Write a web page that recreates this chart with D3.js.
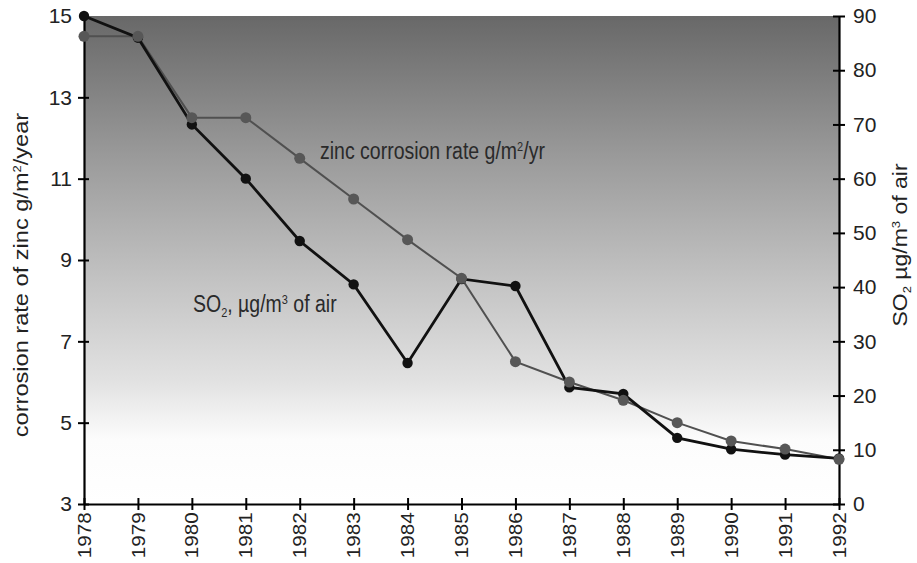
<!DOCTYPE html>
<html>
<head>
<meta charset="utf-8">
<script src="https://cdn.jsdelivr.net/npm/d3@7"></script>
<style>
  body { margin: 0; background: #fff; }
  svg { font-family: "Liberation Sans", Arial, sans-serif; }
</style>
</head>
<body>
<svg width="917" height="563"></svg>
<script>
// data
var years = [1978, 1979, 1980, 1981, 1982, 1983, 1984, 1985, 1986, 1987, 1988, 1989, 1990, 1991, 1992];
var zincRate = [14.5, 14.5, 12.5, 12.5, 11.5, 10.5, 9.5, 8.55, 6.5, 6.0, 5.55, 5.0, 4.55, 4.35, 4.1];
var so2 = [90, 86, 70, 60, 48.5, 40.5, 26, 41.5, 40.2, 21.5, 20.3, 12.2, 10.1, 9.1, 8.4];
var leftTicks = [3, 5, 7, 9, 11, 13, 15];
var rightTicks = [0, 10, 20, 30, 40, 50, 60, 70, 80, 90];

var margin = {top: 16, right: 78, bottom: 59, left: 84},
    width = 917 - margin.left - margin.right,
    height = 563 - margin.top - margin.bottom;

// the original scan is a bit stretched vertically
var stretch = 1.18;

var svg = d3.select("svg")
  .append("g")
  .attr("transform", "translate(" + margin.left + "," + margin.top + ")");

var x = d3.scaleLinear().domain([1978, 1992]).range([0, width]);
var yL = d3.scaleLinear().domain([3, 15]).range([height, 0]);
var yR = d3.scaleLinear().domain([0, 90]).range([height, 0]);

// shaded background, dark at top fading to white
var grad = d3.select("svg").append("defs").append("linearGradient")
  .attr("id", "bg").attr("x1", 0).attr("y1", 0).attr("x2", 0).attr("y2", 1);
grad.append("stop").attr("offset", "0%").attr("stop-color", "#686868");
grad.append("stop").attr("offset", "30%").attr("stop-color", "#9c9c9c");
grad.append("stop").attr("offset", "55%").attr("stop-color", "#c4c4c4");
grad.append("stop").attr("offset", "75%").attr("stop-color", "#e2e2e2");
grad.append("stop").attr("offset", "87%").attr("stop-color", "#fcfcfc");
grad.append("stop").attr("offset", "100%").attr("stop-color", "#ffffff");

svg.append("rect")
  .attr("width", width).attr("height", height)
  .attr("fill", "url(#bg)");

// axes
function styleAxis(g) {
  g.select(".domain").attr("stroke-width", 2.2);
  g.selectAll(".tick line").attr("stroke-width", 2);
  g.selectAll(".tick text").attr("fill", "#222");
}

var left = svg.append("g")
  .call(d3.axisLeft(yL).tickValues(leftTicks).tickSize(6).tickSizeOuter(0).tickPadding(6))
  .style("font-size", "21px");
left.selectAll(".tick line").attr("x2", -6).attr("x1", 5);
styleAxis(left);
left.select(".tick:last-of-type line").remove();

var right = svg.append("g")
  .attr("transform", "translate(" + width + ",0)")
  .call(d3.axisRight(yR).tickValues(rightTicks).tickSize(6).tickSizeOuter(0).tickPadding(8))
  .style("font-size", "21px");
right.selectAll(".tick line").attr("x1", -6).attr("x2", 6);
styleAxis(right);

var bottom = svg.append("g")
  .attr("transform", "translate(0," + height + ")")
  .call(d3.axisBottom(x).tickValues(years).tickFormat(d3.format("d")).tickSize(6).tickSizeOuter(0))
  .style("font-size", "17.5px");
bottom.selectAll(".tick line").attr("y1", -6).attr("y2", 6);
styleAxis(bottom);
bottom.selectAll(".tick text")
  .attr("transform", "rotate(-90) scale(" + stretch + ",1)")
  .attr("text-anchor", "end")
  .attr("x", -7).attr("y", 0).attr("dy", "0.35em");

// zinc corrosion series (grey)
var zincLine = d3.line()
  .x(function(d, i) { return x(years[i]); })
  .y(function(d) { return yL(d); });

svg.append("path")
  .datum(zincRate)
  .attr("fill", "none")
  .attr("stroke", "#505050")
  .attr("stroke-width", 2)
  .attr("d", zincLine);

// SO2 series (black)
var so2Line = d3.line()
  .x(function(d, i) { return x(years[i]); })
  .y(function(d) { return yR(d); });

svg.append("path")
  .datum(so2)
  .attr("fill", "none")
  .attr("stroke", "#111")
  .attr("stroke-width", 2.8)
  .attr("d", so2Line);

svg.selectAll("circle.so2")
  .data(so2)
  .enter().append("circle")
  .attr("class", "so2")
  .attr("cx", function(d, i) { return x(years[i]); })
  .attr("cy", function(d) { return yR(d); })
  .attr("r", 5.2)
  .attr("fill", "#111");

svg.selectAll("circle.zinc")
  .data(zincRate)
  .enter().append("circle")
  .attr("class", "zinc")
  .attr("cx", function(d, i) { return x(years[i]); })
  .attr("cy", function(d) { return yL(d); })
  .attr("r", 5.5)
  .attr("fill", "#575757");

// in-plot labels
var zl = svg.append("text")
  .attr("transform", "translate(236,143) scale(1," + stretch + ")")
  .style("font-size", "19.5px").attr("fill", "#2a2a2a");
zl.append("tspan").text("zinc corrosion rate g/m");
zl.append("tspan").attr("dy", -7).style("font-size", "11px").text("2");
zl.append("tspan").attr("dy", 7).text("/yr");

var sl = svg.append("text")
  .attr("transform", "translate(109,296) scale(1," + stretch + ")")
  .style("font-size", "19.5px").attr("fill", "#2a2a2a");
sl.append("tspan").text("SO");
sl.append("tspan").attr("dy", 4).style("font-size", "11px").text("2");
sl.append("tspan").attr("dy", -4).text(", µg/m");
sl.append("tspan").attr("dy", -7).style("font-size", "11px").text("3");
sl.append("tspan").attr("dy", 7).text(" of air");

// axis titles
var lt = d3.select("svg").append("text")
  .attr("transform", "translate(28,275) rotate(-90) scale(" + stretch + ",1)")
  .attr("text-anchor", "middle")
  .style("font-size", "20px").attr("fill", "#222");
lt.append("tspan").text("corrosion rate of zinc g/m");
lt.append("tspan").attr("dy", -7).style("font-size", "11px").text("2");
lt.append("tspan").attr("dy", 7).text("/year");

var rt = d3.select("svg").append("text")
  .attr("transform", "translate(907,245) rotate(-90) scale(" + stretch + ",1)")
  .attr("text-anchor", "middle")
  .style("font-size", "19.5px").attr("fill", "#222");
rt.append("tspan").text("SO");
rt.append("tspan").attr("dy", 4).style("font-size", "11px").text("2");
rt.append("tspan").attr("dy", -4).text(" µg/m");
rt.append("tspan").attr("dy", -7).style("font-size", "11px").text("3");
rt.append("tspan").attr("dy", 7).text(" of air");
</script>
</body>
</html>
